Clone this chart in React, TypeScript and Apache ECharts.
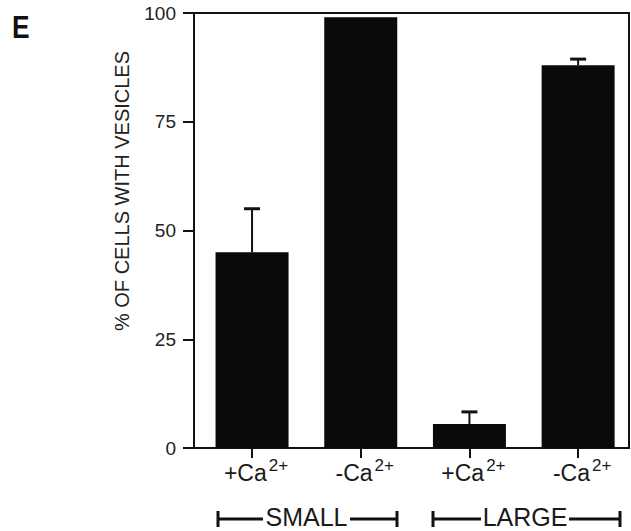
import React, { useEffect, useRef } from "react";
import * as echarts from "echarts";

const categories = ["+Ca", "-Ca", "+Ca", "-Ca"];
const superscripts = ["2+", "2+", "2+", "2+"];
const values = [45, 99, 5.5, 88];
const errorTops = [55, null, 8.3, 89.4];
const yTicks = [0, 25, 50, 75, 100];
const groupLabels = ["SMALL", "LARGE"];
const yTitle = "% OF CELLS WITH VESICLES";
const panelLabel = "E";

const FONT = "'Liberation Sans', Arial, Helvetica, sans-serif";
const INK = "#111";

export default function App() {
  const ref = useRef<HTMLDivElement>(null);
  useEffect(() => {
    if (!ref.current) return;
    const chart = echarts.init(ref.current, null, { renderer: "svg" });
    const barData = values.map((v, i) => [i, v]);
    const errData: number[][] = [];
    errorTops.forEach((t, i) => {
      if (t !== null) errData.push([i, values[i], t]);
    });

    const bracket = (label: string, x0: number, x1: number, t0: number, t1: number) => {
      const y = 519;
      const cy0 = 511;
      const cy1 = 527;
      const ls = { stroke: INK, lineWidth: 3 };
      return [
        { type: "line", shape: { x1: x0, y1: cy0, x2: x0, y2: cy1 }, style: ls },
        { type: "line", shape: { x1: x0, y1: y, x2: t0, y2: y }, style: ls },
        { type: "line", shape: { x1: t1, y1: y, x2: x1, y2: y }, style: ls },
        { type: "line", shape: { x1: x1, y1: cy0, x2: x1, y2: cy1 }, style: ls },
        {
          type: "text",
          x: (t0 + t1) / 2,
          y: 517,
          style: {
            text: label,
            fontFamily: FONT,
            fontSize: 25,
            fill: "#1a1a1a",
            textAlign: "center",
            textVerticalAlign: "middle",
          },
        },
      ];
    };

    chart.setOption({
      animation: false,
      grid: {
        left: 194,
        right: 2,
        top: 13,
        bottom: 83,
        show: true,
        borderColor: INK,
        borderWidth: 2,
        backgroundColor: "transparent",
        outerBoundsMode: "none",
      },
      xAxis: {
        type: "value",
        min: -0.534,
        max: 3.468,
        splitLine: { show: false },
        axisLine: { show: true, onZero: false, lineStyle: { color: INK, width: 2 } },
        axisTick: {
          show: true,
          inside: false,
          length: 10,
          lineStyle: { color: INK, width: 2 },
          customValues: [0, 1, 2, 3],
        },
        axisLabel: {
          show: true,
          margin: 9,
          customValues: [0, 1, 2, 3],
          formatter: (v: number) => {
            const i = Math.round(v);
            return `{b|${categories[i]}}{s|${superscripts[i]}}`;
          },
          rich: {
            b: { fontFamily: FONT, fontSize: 23, color: "#1a1a1a", lineHeight: 27, verticalAlign: "bottom", padding: [0, 0, 0, 8] },
            s: { fontFamily: FONT, fontSize: 17, color: "#1a1a1a", lineHeight: 27, verticalAlign: "top", padding: [0, 0, 0, 2] },
          },
        },
      },
      yAxis: {
        type: "value",
        min: 0,
        max: 100,
        interval: 25,
        splitLine: { show: false },
        axisLine: { show: true, onZero: false, lineStyle: { color: INK, width: 2 } },
        axisTick: { show: true, inside: false, length: 11, lineStyle: { color: INK, width: 2 } },
        axisLabel: {
          margin: 18,
          fontFamily: FONT,
          fontSize: 19,
          color: "#222",
          formatter: (v: number) => (yTicks.includes(v) ? String(v) : ""),
        },
      },
      series: [
        {
          type: "bar",
          data: barData,
          barWidth: 73,
          itemStyle: { color: "#0a0a0a" },
          z: 2,
        },
        {
          type: "custom",
          data: errData,
          encode: { x: 0, y: [1, 2] },
          z: 3,
          renderItem: (params: any, api: any) => {
            const x = api.value(0);
            const lo = api.coord([x, api.value(1)]);
            const hi = api.coord([x, api.value(2)]);
            return {
              type: "group",
              children: [
                {
                  type: "line",
                  shape: { x1: lo[0], y1: lo[1], x2: hi[0], y2: hi[1] },
                  style: { stroke: INK, lineWidth: 2 },
                },
                {
                  type: "line",
                  shape: { x1: hi[0] - 8, y1: hi[1], x2: hi[0] + 8, y2: hi[1] },
                  style: { stroke: INK, lineWidth: 3 },
                },
              ],
            };
          },
        },
      ],
      graphic: [
        {
          type: "text",
          x: 12,
          y: 12,
          scaleX: 0.85,
          style: { text: panelLabel, fontFamily: FONT, fontSize: 31, fontWeight: "bold", fill: INK },
        },
        {
          type: "text",
          x: 122,
          y: 191,
          rotation: Math.PI / 2,
          style: {
            text: yTitle,
            fontFamily: FONT,
            fontSize: 20,
            fill: "#222",
            textAlign: "center",
            textVerticalAlign: "middle",
          },
        },
        ...bracket(groupLabels[0], 218, 397, 263, 350),
        ...bracket(groupLabels[1], 433, 620, 481, 569),
      ],
    });
    return () => chart.dispose();
  }, []);
  return (
    <div
      ref={ref}
      style={{ position: "absolute", left: 0, top: 0, width: 631, height: 531, background: "#fff" }}
    />
  );
}
